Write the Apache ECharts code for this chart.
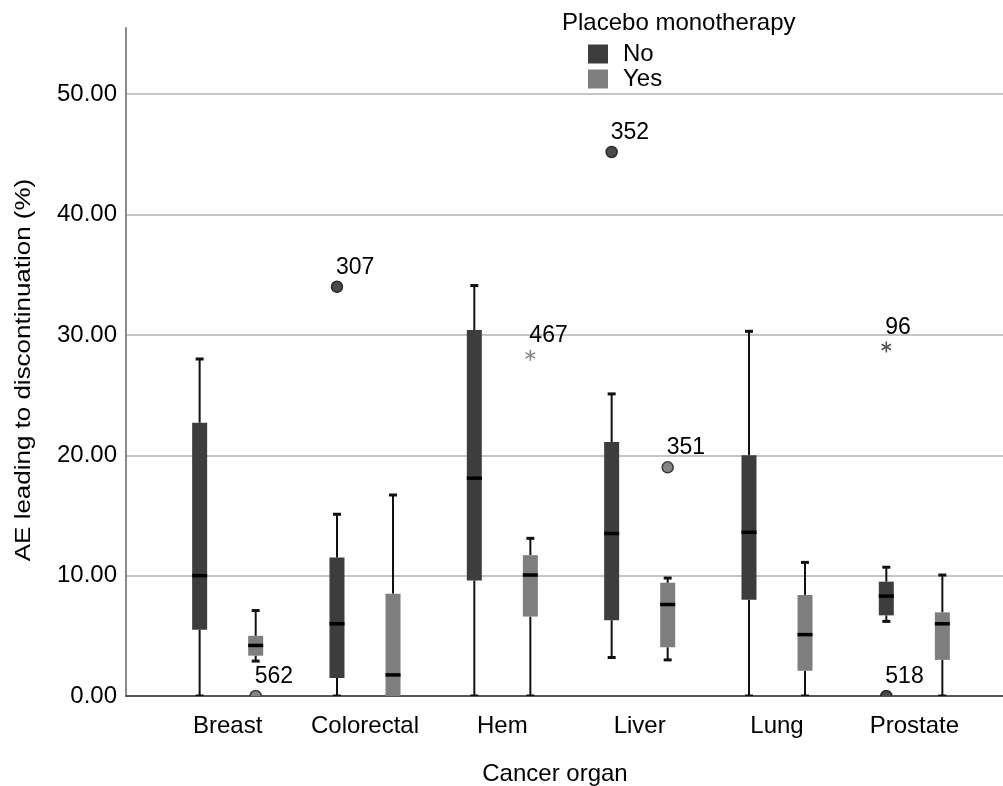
<!DOCTYPE html>
<html><head><meta charset="utf-8">
<script src="https://cdn.jsdelivr.net/npm/echarts@6/dist/echarts.min.js"></script>
<style>html,body{margin:0;padding:0;background:#fff}#chart{width:1003px;height:786px}</style>
</head><body><div id="chart"></div>
<script>
const categories = ['Breast', 'Colorectal', 'Hem', 'Liver', 'Lung', 'Prostate'];
// [min, Q1, median, Q3, max] per cancer organ
const noStats = [
  [0, 5.5, 10.0, 22.7, 28.0],
  [0, 1.5, 6.0, 11.5, 15.1],
  [0, 9.6, 18.1, 30.4, 34.1],
  [3.2, 6.3, 13.5, 21.1, 25.1],
  [0, 8.0, 13.6, 20.0, 30.3],
  [6.2, 6.7, 8.3, 9.5, 10.7]
];
const yesStats = [
  [2.9, 3.35, 4.2, 5.0, 7.1],
  [0, 0, 1.75, 8.5, 16.7],
  [0, 6.6, 10.05, 11.7, 13.1],
  [3.0, 4.05, 7.6, 9.4, 9.8],
  [0, 2.1, 5.1, 8.4, 11.1],
  [0, 3.0, 6.0, 6.95, 10.05]
];
const noOutliers = [
  { category: 'Colorectal', value: 34.0, id: '307', type: 'outlier' },
  { category: 'Liver', value: 45.2, id: '352', type: 'outlier' },
  { category: 'Prostate', value: 29.0, id: '96', type: 'extreme' },
  { category: 'Prostate', value: 0, id: '518', type: 'outlier' }
];
const yesOutliers = [
  { category: 'Breast', value: 0, id: '562', type: 'outlier' },
  { category: 'Hem', value: 28.3, id: '467', type: 'extreme' },
  { category: 'Liver', value: 19.0, id: '351', type: 'outlier' }
];
const seriesNames = ['No', 'Yes'];
const legendTitle = 'Placebo monotherapy';
const xTitle = 'Cancer organ';
const yTitle = 'AE leading to discontinuation (%)';
const yMin = 0, yMax = 55.5, yStep = 10;

const FONT = '"Liberation Sans", Arial, sans-serif';
const C_NO = '#3d3d3d', C_YES = '#7e7e7e';
const SHIFT = 0.204; // fraction of band width

function boxRenderer(sign, fill) {
  return function (params, api) {
    const band = api.size([1, 0])[0];
    const cx = api.coord([api.value(0), 0])[0] + sign * band * SHIFT;
    const py = i => api.coord([api.value(0), api.value(i)])[1];
    const yLo = py(1), yQ1 = py(2), yMed = py(3), yQ3 = py(4), yHi = py(5);
    const bw = 15, cw = 8;
    const ink = '#111';
    return {
      type: 'group',
      children: [
        { type: 'line', shape: { x1: cx, y1: yLo, x2: cx, y2: yQ1 }, style: { stroke: ink, lineWidth: 2 } },
        { type: 'line', shape: { x1: cx, y1: yQ3, x2: cx, y2: yHi }, style: { stroke: ink, lineWidth: 2 } },
        { type: 'line', shape: { x1: cx - cw / 2, y1: yLo, x2: cx + cw / 2, y2: yLo }, style: { stroke: ink, lineWidth: 3 } },
        { type: 'line', shape: { x1: cx - cw / 2, y1: yHi, x2: cx + cw / 2, y2: yHi }, style: { stroke: ink, lineWidth: 3 } },
        { type: 'rect', shape: { x: cx - bw / 2, y: yQ3, width: bw, height: yQ1 - yQ3 }, style: { fill: fill } },
        { type: 'line', shape: { x1: cx - bw / 2, y1: yMed, x2: cx + bw / 2, y2: yMed }, style: { stroke: '#000', lineWidth: 3.5 } }
      ]
    };
  };
}

function outlierRenderer(list, sign, fill, stroke, starColor) {
  return function (params, api) {
    const o = list[params.dataIndex];
    const band = api.size([1, 0])[0];
    const p = api.coord([api.value(0), api.value(1)]);
    const cx = p[0] + sign * band * SHIFT, cy = p[1];
    const children = [];
    if (o.type === 'outlier') {
      children.push({ type: 'circle', shape: { cx: cx, cy: cy, r: 5.5 }, style: { fill: fill, stroke: stroke, lineWidth: 1.5 } });
    } else {
      const r = 5.5;
      const a = [Math.PI / 2, Math.PI / 6, -Math.PI / 6];
      a.forEach(t => {
        children.push({ type: 'line', shape: { x1: cx - r * Math.cos(t), y1: cy - r * Math.sin(t), x2: cx + r * Math.cos(t), y2: cy + r * Math.sin(t) }, style: { stroke: starColor, lineWidth: 1.6 } });
      });
    }
    children.push({ type: 'text', x: cx - 1, y: cy - 8, style: { text: o.id, fill: '#000', font: '23px ' + FONT, align: 'left', verticalAlign: 'bottom' } });
    return { type: 'group', children: children };
  };
}

const chart = echarts.init(document.getElementById('chart'), null, { renderer: 'canvas' });
chart.setOption({
  animation: false,
  backgroundColor: '#fff',
  textStyle: { fontFamily: FONT },
  title: {
    text: legendTitle, left: 562, top: 11, padding: 0,
    textStyle: { fontSize: 24, fontWeight: 'normal', color: '#000', fontFamily: FONT }
  },
  legend: {
    data: [{ name: seriesNames[0], itemStyle: { color: C_NO } }, { name: seriesNames[1], itemStyle: { color: C_YES } }],
    orient: 'vertical', left: 588, top: 42, padding: 0,
    itemWidth: 20, itemHeight: 19, itemGap: 1, icon: 'rect', selectedMode: false,
    textStyle: { fontSize: 24, color: '#000', fontFamily: FONT, padding: [0, 0, 0, 10] }
  },
  grid: [
    { left: 126, right: 0, top: 28, bottom: 90 },
    { left: 159, right: 20, top: 28, bottom: 90 }
  ],
  xAxis: [
    { type: 'value', gridIndex: 0, min: 0, max: 1, axisLine: { show: true, lineStyle: { color: '#555', width: 2 } },
      axisTick: { show: false }, axisLabel: { show: false }, splitLine: { show: false } },
    { type: 'category', gridIndex: 1, data: categories, axisLine: { show: false }, axisTick: { show: false },
      axisLabel: { interval: 0, fontSize: 24, color: '#000', margin: 18, fontFamily: FONT }, splitLine: { show: false } }
  ],
  yAxis: [
    { type: 'value', gridIndex: 0, min: yMin, max: yMax, interval: yStep,
      axisLine: { show: true, lineStyle: { color: '#8a8a8a', width: 2 } }, axisTick: { show: false },
      axisLabel: { fontSize: 24, color: '#000', margin: 9, showMaxLabel: false, fontFamily: FONT, formatter: v => v.toFixed(2) },
      splitLine: { show: true, showMaxLine: false, showMinLine: false, lineStyle: { color: '#c6c6c6', width: 2 } } },
    { type: 'value', gridIndex: 1, min: yMin, max: yMax, interval: yStep, show: false, splitLine: { show: false } }
  ],
  graphic: [
    { type: 'text', x: 555, y: 774, style: { text: xTitle, font: '24px ' + FONT, fill: '#000', align: 'center', verticalAlign: 'middle' } },
    { type: 'text', x: 24, y: 370, rotation: Math.PI / 2, scaleX: 1.18, style: { text: yTitle, font: '22px ' + FONT, fill: '#000', align: 'center', verticalAlign: 'middle' } }
  ],
  series: [
    { name: seriesNames[0], type: 'custom', xAxisIndex: 1, yAxisIndex: 1, clip: true, itemStyle: { color: C_NO },
      encode: { x: 0, y: [1, 2, 3, 4, 5] }, renderItem: boxRenderer(-1, C_NO),
      data: noStats.map((s, i) => [i].concat(s)) },
    { name: seriesNames[1], type: 'custom', xAxisIndex: 1, yAxisIndex: 1, clip: true, itemStyle: { color: C_YES },
      encode: { x: 0, y: [1, 2, 3, 4, 5] }, renderItem: boxRenderer(1, C_YES),
      data: yesStats.map((s, i) => [i].concat(s)) },
    { name: 'No outliers', type: 'custom', xAxisIndex: 1, yAxisIndex: 1, clip: true,
      encode: { x: 0, y: 1 }, renderItem: outlierRenderer(noOutliers, -1, '#4a4a4a', '#2a2a2a', '#555'),
      data: noOutliers.map(o => [categories.indexOf(o.category), o.value]) },
    { name: 'Yes outliers', type: 'custom', xAxisIndex: 1, yAxisIndex: 1, clip: true,
      encode: { x: 0, y: 1 }, renderItem: outlierRenderer(yesOutliers, 1, '#858585', '#3a3a3a', '#8a8a8a'),
      data: yesOutliers.map(o => [categories.indexOf(o.category), o.value]) }
  ]
});
</script></body></html>
